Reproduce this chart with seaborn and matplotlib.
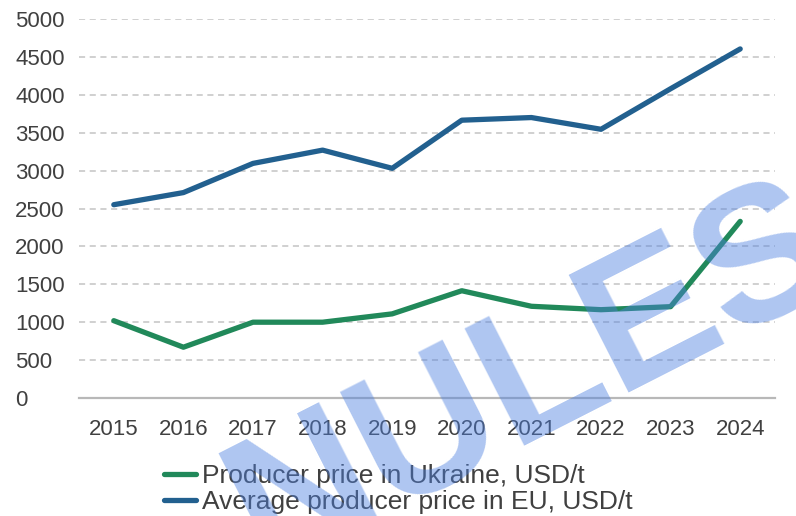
import pandas as pd
import matplotlib
matplotlib.use("Agg")
import matplotlib.pyplot as plt
import seaborn as sns

years = [2015, 2016, 2017, 2018, 2019, 2020, 2021, 2022, 2023, 2024]
ukraine_price = [1020, 670, 1000, 1000, 1110, 1415, 1210, 1165, 1205, 2330]
eu_price = [2550, 2710, 3095, 3270, 3030, 3665, 3700, 3545, 4080, 4605]
series_names = ["Producer price in Ukraine, USD/t", "Average producer price in EU, USD/t"]
series_colors = ["#21895a", "#22608f"]
y_ticks = [0, 500, 1000, 1500, 2000, 2500, 3000, 3500, 4000, 4500, 5000]

df = pd.DataFrame({"year": years * 2,
                   "price": ukraine_price + eu_price,
                   "series": [series_names[0]] * len(years) + [series_names[1]] * len(years)})

sns.set_theme(style="white")
plt.rcParams["font.family"] = ["Liberation Sans", "DejaVu Sans"]
txt = "#404040"

fig = plt.figure(figsize=(7.96, 5.16), dpi=100)
ax = fig.add_axes([79 / 796, 1 - 398 / 516, (775 - 79) / 796, (398 - 19) / 516])

sns.lineplot(data=df, x="year", y="price", hue="series", palette=series_colors,
             linewidth=3.8, ax=ax, legend=True)

ax.set_xlim(2014.5, 2024.5)
ax.set_ylim(0, 5000)
ax.set_xticks(years)
ax.set_yticks(y_ticks)
ax.set_xlabel("")
ax.set_ylabel("")
for s in ["top", "right", "left"]:
    ax.spines[s].set_visible(False)
ax.spines["bottom"].set_color("#b8b8b8")
ax.spines["bottom"].set_linewidth(1.6)

ax.yaxis.grid(True, linestyle=(0, (4, 3)), color="#c4c4c4", linewidth=1.1)
ax.set_axisbelow(True)
ax.tick_params(axis="both", length=0, labelsize=16, labelcolor=txt)
ax.tick_params(axis="x", pad=15)
ax.tick_params(axis="y", pad=46)
for lab in ax.get_yticklabels():
    lab.set_horizontalalignment("left")

handles, labels = ax.get_legend_handles_labels()
ax.get_legend().remove()
leg = fig.legend(handles, labels, loc="upper left", bbox_to_anchor=(164 / 796, 1 - 464 / 516),
                 frameon=False, fontsize=19, handlelength=1.2, handletextpad=0.25,
                 labelspacing=0.08, borderpad=0, borderaxespad=0)
for t in leg.get_texts():
    t.set_color(txt)

# watermark
fig.text(532 / 796, 1 - 380 / 516, "NULES", rotation=27, fontsize=138, fontweight="bold",
         color=(0.30, 0.50, 0.88), alpha=0.45, ha="center", va="center", zorder=10)

fig.savefig("out.png", dpi=100)
